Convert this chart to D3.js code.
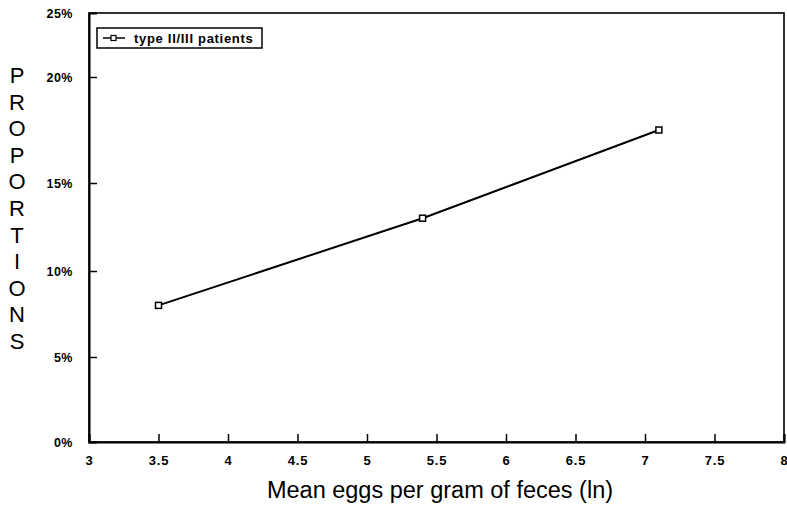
<!DOCTYPE html>
<html>
<head>
<meta charset="utf-8">
<script src="https://cdn.jsdelivr.net/npm/d3@7"></script>
<style>
  body { margin: 0; background: #fff; }
  svg { display: block; font-family: "Liberation Sans", Arial, sans-serif; }
</style>
</head>
<body>
<div id="chart"></div>
<script>
// Data
const eggs = [3.5, 5.4, 7.1];           // mean eggs per gram (ln)
const proportions = [8, 13, 17.5];      // % type II/III patients
const xTicks = [3, 3.5, 4, 4.5, 5, 5.5, 6, 6.5, 7, 7.5, 8];
const yTicks = [0, 5, 10, 15, 20, 25];
const seriesName = 'type II/III patients';
const yLabel = 'PROPORTIONS';
const xLabel = 'Mean eggs per gram of feces (ln)';

const width = 787, height = 523;
const plot = { left: 89, right: 784, top: 13, bottom: 442 };

const svg = d3.select('#chart')
    .append('svg')
    .attr('width', width)
    .attr('height', height);

// Scales (the scanned y axis is not evenly spaced, so a piecewise scale)
const x = d3.scaleLinear()
    .domain([3, 8])
    .range([plot.left, plot.right]);

const y = d3.scaleLinear()
    .domain(yTicks)
    .range([442, 357, 271, 183, 77, 13]);

// Frame
svg.append('rect')
    .attr('x', plot.left)
    .attr('y', plot.top)
    .attr('width', plot.right - plot.left)
    .attr('height', plot.bottom - plot.top)
    .attr('fill', 'none')
    .attr('stroke', '#000')
    .attr('stroke-width', 1.6);

// X axis - ticks point inward
const xAxis = d3.axisTop(x)
    .tickValues(xTicks)
    .tickSize(8)
    .tickFormat(d => d);

const gx = svg.append('g')
    .attr('transform', `translate(0, ${plot.bottom})`)
    .call(xAxis);
gx.select('.domain').attr('stroke-width', 2);
gx.selectAll('.tick line').attr('stroke-width', 1.5);
gx.selectAll('.tick text')
    .attr('y', 14)
    .attr('dy', '0.71em')
    .style('font-size', '13px')
    .style('font-weight', 'bold')
    .style('letter-spacing', '0.8px');

// Y axis - ticks point inward
const yAxis = d3.axisRight(y)
    .tickValues(yTicks)
    .tickSize(8)
    .tickFormat(d => d + '%');

const gy = svg.append('g')
    .attr('transform', `translate(${plot.left}, 0)`)
    .call(yAxis);
gy.select('.domain').attr('stroke-width', 2);
gy.selectAll('.tick line').attr('stroke-width', 1.5);
gy.selectAll('.tick text')
    .attr('x', -16)
    .attr('text-anchor', 'end')
    .style('font-size', '12.5px')
    .style('font-weight', 'bold')
    .style('letter-spacing', '0.5px');
gy.selectAll('.tick')
    .filter(d => d === 0 || d === 25)
    .select('line').remove();

// Line + markers
const pts = eggs.map((e, i) => ({ x: e, y: proportions[i] }));

svg.append('path')
    .datum(pts)
    .attr('fill', 'none')
    .attr('stroke', '#000')
    .attr('stroke-width', 2)
    .attr('d', d3.line().x(d => x(d.x)).y(d => y(d.y)));

svg.selectAll('.marker')
    .data(pts)
    .enter()
    .append('rect')
    .attr('class', 'marker')
    .attr('x', d => x(d.x) - 3)
    .attr('y', d => y(d.y) - 3)
    .attr('width', 6)
    .attr('height', 6)
    .attr('fill', '#fff')
    .attr('stroke', '#000')
    .attr('stroke-width', 1.5);

// Legend
const legend = svg.append('g').attr('transform', 'translate(97, 28)');
legend.append('rect')
    .attr('width', 165)
    .attr('height', 20)
    .attr('fill', '#fff')
    .attr('stroke', '#000')
    .attr('stroke-width', 1.5);
legend.append('line')
    .attr('x1', 6).attr('x2', 28)
    .attr('y1', 10).attr('y2', 10)
    .attr('stroke', '#000')
    .attr('stroke-width', 1.5);
legend.append('rect')
    .attr('x', 14).attr('y', 7.5)
    .attr('width', 5).attr('height', 5)
    .attr('fill', '#fff')
    .attr('stroke', '#000')
    .attr('stroke-width', 1.2);
legend.append('text')
    .attr('x', 37)
    .attr('y', 14.5)
    .style('font-size', '13px')
    .style('font-weight', 'bold')
    .style('letter-spacing', '0.7px')
    .text(seriesName);

// Y label, stacked letters
svg.append('g')
    .selectAll('text')
    .data(yLabel.split(''))
    .enter()
    .append('text')
    .attr('x', 17)
    .attr('y', (d, i) => 83 + i * 26.6)
    .attr('text-anchor', 'middle')
    .style('font-size', '22px')
    .text(d => d);

// X label
svg.append('text')
    .attr('x', 440)
    .attr('y', 498)
    .attr('text-anchor', 'middle')
    .style('font-size', '23.5px')
    .text(xLabel);
</script>
</body>
</html>
